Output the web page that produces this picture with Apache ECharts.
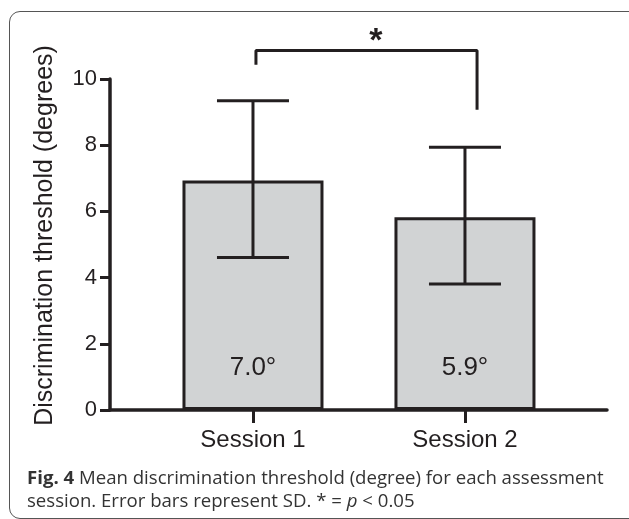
<!DOCTYPE html>
<html>
<head>
<meta charset="utf-8">
<script src="https://cdn.jsdelivr.net/npm/echarts@6/dist/echarts.min.js"></script>
<style>
  html, body { margin: 0; padding: 0; background: #fff; }
  #frame { position: absolute; left: 9px; top: 11px; width: 630px; height: 506px; border: 1.5px solid #555; border-radius: 11px; }
  #main { position: absolute; left: 0; top: 0; width: 629px; height: 519px; }
</style>
</head>
<body>
<div id="frame"></div>
<div id="main"></div>
<script>
// ---- data ----
const categories = ['Session 1', 'Session 2'];
const means = [6.93, 5.82];
const sdLow = [4.61, 3.81];
const sdHigh = [9.34, 7.94];
const barLabels = ['7.0°', '5.9°'];
const yTicks = [0, 2, 4, 6, 8, 10];
const bracket = [[1.014, 10.43], [1.014, 10.86], [2.057, 10.86], [2.057, 9.07]];
const starPos = [[1.58, 11.12]];

const positions = categories.map((c, i) => i + 1);
const ink = '#231f20';

const chart = echarts.init(document.getElementById('main'), null, { renderer: 'canvas' });
chart.setOption({
  animation: false,
  backgroundColor: 'transparent',
  title: {
    left: 22, top: 462,
    text: '{b|Fig. 4} Mean discrimination threshold (degree) for each assessment\nsession. Error bars represent SD. * = {i|p} < 0.05',
    textStyle: {
      fontFamily: 'Open Sans', fontSize: 18.6, fontWeight: 'normal', color: '#333', lineHeight: 23,
      rich: {
        b: { fontFamily: 'Open Sans', fontSize: 18.6, fontWeight: 'bold', color: '#333', lineHeight: 23 },
        i: { fontFamily: 'Open Sans', fontSize: 18.6, fontStyle: 'italic', color: '#333', lineHeight: 23 }
      }
    }
  },
  grid: { left: 110, right: 22, top: 79, bottom: 109 },
  xAxis: {
    type: 'value', min: 0.3255, max: 2.67,
    splitLine: { show: false },
    axisLine: { show: true, lineStyle: { color: ink, width: 3.5 } },
    axisTick: { show: true, customValues: positions, length: 13, lineStyle: { color: ink, width: 3 } },
    axisLabel: {
      customValues: positions, margin: 18,
      fontFamily: 'Liberation Sans', fontSize: 24, color: ink,
      formatter: v => categories[Math.round(v) - 1] || ''
    }
  },
  yAxis: {
    type: 'value', min: 0, max: 10, interval: 2,
    name: 'Discrimination threshold (degrees)',
    nameLocation: 'middle', nameGap: 52,
    nameTextStyle: { fontFamily: 'Liberation Sans', fontSize: 25, color: ink, padding: [0, 0, 0, 18] },
    splitLine: { show: false },
    axisLine: { show: true, lineStyle: { color: ink, width: 3.5 } },
    axisTick: { show: true, length: 10, lineStyle: { color: ink, width: 3 } },
    axisLabel: { margin: 13, fontFamily: 'Liberation Sans', fontSize: 22, color: ink,
      formatter: v => yTicks.includes(v) ? String(v) : '' }
  },
  series: [
    {
      type: 'bar',
      data: positions.map((p, i) => [p, means[i]]),
      barWidth: 141,
      itemStyle: { color: '#d1d3d4', borderColor: ink, borderWidth: 3 },
      label: {
        show: true, position: 'insideBottom', distance: 29,
        fontFamily: 'Liberation Sans', fontSize: 26, color: ink,
        formatter: p => barLabels[p.dataIndex]
      },
      z: 2
    },
    {
      type: 'custom',
      data: positions.map((p, i) => [p, sdLow[i], sdHigh[i]]),
      z: 5,
      renderItem: function (params, api) {
        const x = api.value(0);
        const lo = api.coord([x, api.value(1)]);
        const hi = api.coord([x, api.value(2)]);
        const hw = 36;
        const style = { stroke: ink, lineWidth: 3 };
        return {
          type: 'group',
          children: [
            { type: 'line', shape: { x1: lo[0], y1: lo[1], x2: hi[0], y2: hi[1] }, style },
            { type: 'line', shape: { x1: hi[0] - hw, y1: hi[1], x2: hi[0] + hw, y2: hi[1] }, style },
            { type: 'line', shape: { x1: lo[0] - hw, y1: lo[1], x2: lo[0] + hw, y2: lo[1] }, style }
          ]
        };
      }
    },
    {
      type: 'line',
      data: bracket,
      symbol: 'none',
      clip: false,
      lineStyle: { color: ink, width: 3 },
      z: 5
    },
    {
      type: 'custom',
      data: starPos,
      clip: false,
      z: 5,
      renderItem: function (params, api) {
        const c = api.coord([api.value(0), api.value(1)]);
        return {
          type: 'text',
          style: { text: '*', x: c[0], y: c[1], align: 'center', verticalAlign: 'middle',
            font: 'bold 34px "Liberation Sans"', fill: ink }
        };
      }
    }
  ]
});
</script>
</body>
</html>
